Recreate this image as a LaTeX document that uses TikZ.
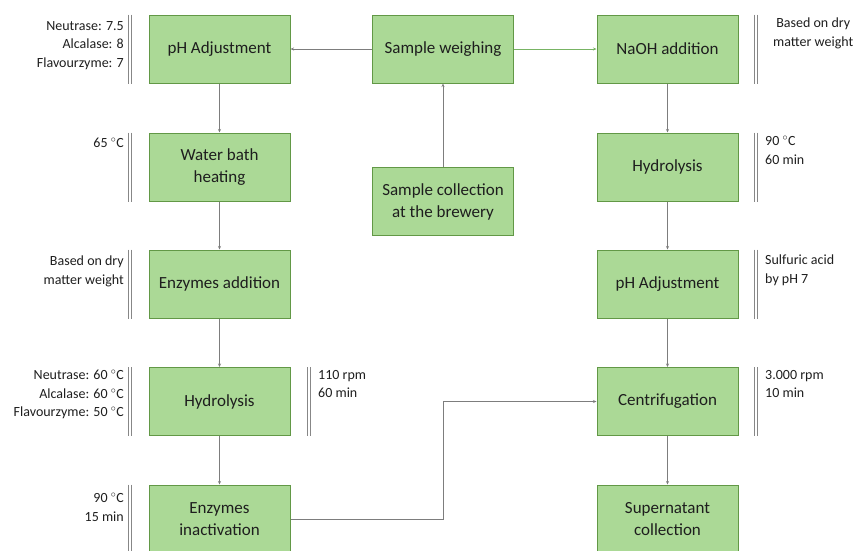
\documentclass[tikz,border=0pt]{standalone}
\usepackage{fontspec}
\setmainfont{Carlito}
\usetikzlibrary{arrows.meta}
\definecolor{boxfill}{RGB}{171,217,150}
\definecolor{boxdraw}{RGB}{98,152,70}
\definecolor{linegray}{RGB}{125,125,125}
\definecolor{bargray}{RGB}{135,135,135}
\definecolor{greenline}{RGB}{120,180,100}
\definecolor{txt}{RGB}{30,30,30}
\begin{document}
\begin{tikzpicture}[x=1pt,y=-1pt,
  stepbox/.style={draw=boxdraw, fill=boxfill, line width=1pt, minimum width=141pt, minimum height=68pt, inner sep=0pt, align=center, font=\fontsize{17}{22}\selectfont, text=txt},
  lblL/.style={font=\fontsize{14}{18.5}\selectfont, inner sep=0pt, text=txt, align=right, anchor=north east},
  lblR/.style={font=\fontsize{14}{18.5}\selectfont, inner sep=0pt, text=txt, align=left, anchor=north west},
  conn/.style={draw=linegray, line width=0.8pt, -{Stealth[length=3.5pt,width=3pt]}},
  bar/.style={draw=bargray, line width=0.9pt}]
\useasboundingbox (0,0) rectangle (861,550);
\clip (0,0) rectangle (861,550);
% boxes
\node[stepbox] (ph1) at (219.5,49) {pH Adjustment};
\node[stepbox] (wb) at (219.5,167) {Water bath\\heating};
\node[stepbox] (ea) at (219.5,284) {Enzymes addition};
\node[stepbox] (hy1) at (219.5,401.5) {Hydrolysis};
\node[stepbox] (ei) at (219.5,519) {Enzymes\\inactivation};
\node[stepbox] (sw) at (443,49) {Sample weighing};
\node[stepbox] (sc) at (443,201.5) {Sample collection\\at the brewery};
\node[stepbox] (na) at (667.5,49) {NaOH addition};
\node[stepbox] (hy2) at (667.5,167) {Hydrolysis};
\node[stepbox] (ph2) at (667.5,284) {pH Adjustment};
\node[stepbox] (ce) at (667.5,401.5) {Centrifugation};
\node[stepbox] (su) at (667.5,519) {Supernatant\\collection};
% connectors
\draw[conn] (sw.west) -- (ph1.east);
\draw[conn, draw=greenline] (sw.east) -- (na.west);
\draw[conn] (sc.north) -- (sw.south);
\draw[conn] (ph1.south) -- (wb.north);
\draw[conn] (wb.south) -- (ea.north);
\draw[conn] (ea.south) -- (hy1.north);
\draw[conn] (hy1.south) -- (ei.north);
\draw[conn] (na.south) -- (hy2.north);
\draw[conn] (hy2.south) -- (ph2.north);
\draw[conn] (ph2.south) -- (ce.north);
\draw[conn] (ce.south) -- (su.north);
\coordinate (k1) at (443,519);
\coordinate (k2) at (443,401.5);
\draw[conn] (ei.east) -- (k1) -- (k2) -- (ce.west);
% double bars
\foreach \b in {ph1,wb,ea,hy1,ei}{
  \draw[bar] ([xshift=-17pt]\b.north west) -- ([xshift=-17pt]\b.south west);
  \draw[bar] ([xshift=-20pt]\b.north west) -- ([xshift=-20pt]\b.south west);
}
\foreach \b in {na,hy2,ph2,ce}{
  \draw[bar] ([xshift=16pt]\b.north east) -- ([xshift=16pt]\b.south east);
  \draw[bar] ([xshift=19pt]\b.north east) -- ([xshift=19pt]\b.south east);
}
\draw[bar] ([xshift=17pt]hy1.north east) -- ([xshift=17pt]hy1.south east);
\draw[bar] ([xshift=20pt]hy1.north east) -- ([xshift=20pt]hy1.south east);
% labels
\node[lblL] (l1) at (124,21) {Neutrase: 7.5\\Alcalase: 8\\Flavourzyme: 7};
\node[lblL] (l2) at (124,138) {65 $^{\circ}$C};
\node[lblL] (l3) at (124,256) {Based on dry\\matter weight};
\node[lblL] (l4) at (124,370) {Neutrase: 60 $^{\circ}$C\\Alcalase: 60 $^{\circ}$C\\Flavourzyme: 50 $^{\circ}$C};
\node[lblL] (l5) at (124,493) {90 $^{\circ}$C\\15 min};
\node[lblR] (l6) at (318,370) {110 rpm\\60 min};
\node[lblR, align=center] (r1) at (773,18) {Based on dry\\matter weight};
\node[lblR] (r2) at (765,136) {90 $^{\circ}$C\\60 min};
\node[lblR] (r3) at (765,255) {Sulfuric acid\\by pH 7};
\node[lblR] (r4) at (765,370) {3.000 rpm\\10 min};
\end{tikzpicture}
\end{document}
